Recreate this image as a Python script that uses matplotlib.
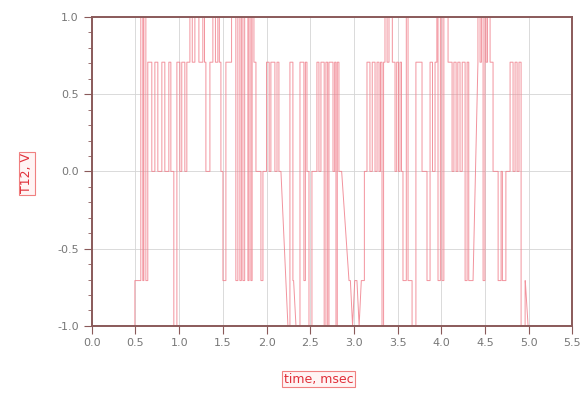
import matplotlib
matplotlib.use("Agg")
import matplotlib.pyplot as plt
from matplotlib.ticker import MultipleLocator

# Transient waveform of node T12, as held levels.
# Each level is held from hold_start_ms[i] to hold_end_ms[i]; consecutive
# holds are joined by straight lines (vertical when end == next start).
hold_start_ms = [
    0.000, 0.493, 0.561, 0.584, 0.596, 0.619, 0.641, 0.687, 0.722, 0.756,
    0.802, 0.836, 0.882, 0.905, 0.939, 0.974, 1.008, 1.030, 1.065, 1.088,
    1.123, 1.150, 1.180, 1.226, 1.271, 1.290, 1.306, 1.352, 1.386, 1.415,
    1.443, 1.460, 1.478, 1.501, 1.535, 1.600, 1.649, 1.672, 1.695, 1.712,
    1.730, 1.750, 1.787, 1.800, 1.821, 1.835, 1.856, 1.879, 1.936, 1.959,
    2.000, 2.030, 2.050, 2.096, 2.120, 2.142, 2.245, 2.268, 2.302, 2.337,
    2.383, 2.428, 2.445, 2.463, 2.486, 2.520, 2.577, 2.600, 2.623, 2.660,
    2.680, 2.700, 2.715, 2.761, 2.780, 2.795, 2.810, 2.829, 2.944, 2.985,
    3.010, 3.060, 3.085, 3.120, 3.150, 3.184, 3.210, 3.242, 3.265, 3.288,
    3.305, 3.322, 3.340, 3.356, 3.380, 3.402, 3.440, 3.471, 3.490, 3.510,
    3.528, 3.545, 3.562, 3.600, 3.620, 3.666, 3.710, 3.780, 3.837, 3.872,
    3.900, 3.929, 3.950, 3.963, 3.990, 4.009, 4.030, 4.078, 4.124, 4.145,
    4.170, 4.190, 4.215, 4.240, 4.273, 4.296, 4.315, 4.420, 4.420, 4.444,
    4.460, 4.479, 4.500, 4.513, 4.530, 4.559, 4.593, 4.651, 4.685, 4.700,
    4.740, 4.788, 4.822, 4.845, 4.868, 4.890, 4.914, 4.960, 4.994,
]
hold_end_ms = [
    0.493, 0.561, 0.584, 0.596, 0.619, 0.641, 0.687, 0.722, 0.756, 0.802,
    0.836, 0.882, 0.905, 0.939, 0.974, 1.008, 1.030, 1.065, 1.088, 1.123,
    1.150, 1.180, 1.226, 1.271, 1.290, 1.306, 1.352, 1.386, 1.415, 1.443,
    1.460, 1.478, 1.501, 1.535, 1.600, 1.649, 1.672, 1.695, 1.712, 1.730,
    1.750, 1.787, 1.800, 1.821, 1.835, 1.856, 1.879, 1.936, 1.959, 2.000,
    2.030, 2.050, 2.096, 2.120, 2.142, 2.165, 2.268, 2.302, 2.310, 2.383,
    2.428, 2.445, 2.463, 2.486, 2.520, 2.577, 2.600, 2.623, 2.660, 2.680,
    2.700, 2.715, 2.761, 2.780, 2.795, 2.810, 2.829, 2.860, 2.960, 2.985,
    3.035, 3.060, 3.120, 3.150, 3.184, 3.210, 3.242, 3.265, 3.288, 3.305,
    3.322, 3.340, 3.356, 3.380, 3.402, 3.440, 3.471, 3.490, 3.510, 3.528,
    3.545, 3.562, 3.600, 3.620, 3.666, 3.710, 3.780, 3.837, 3.872, 3.900,
    3.929, 3.950, 3.963, 3.990, 4.009, 4.030, 4.078, 4.124, 4.145, 4.170,
    4.190, 4.215, 4.240, 4.273, 4.296, 4.315, 4.364, 4.420, 4.444, 4.460,
    4.479, 4.500, 4.513, 4.530, 4.559, 4.593, 4.651, 4.685, 4.700, 4.740,
    4.788, 4.822, 4.845, 4.868, 4.890, 4.914, 4.960, 4.962, 5.500,
]
hold_level_v = [
    -1, -0.707, 1, -0.707, 1, -0.707, 0.707, 0, 0.707, 0,
    0.707, 0, 0.707, 0, -1, 0.707, 0, 0.707, 0, 0.707,
    1, 0.707, 1, 0.707, 1, 0.707, 0, 0.707, 1, 0.707,
    1, 0.707, 0, -0.707, 0.707, 1, -0.707, 1, -0.707, 1,
    -0.707, 1, -0.707, 1, -0.707, 1, 0.707, 0, -0.707, 0,
    0.707, 0, 0.707, 0, 0.707, 0, -1, 0.707, -0.707, -1,
    0.707, -0.707, 0.707, 0, -1, 0, 0.707, 0, 0.707, -1,
    0.707, -1, 0.707, 0, 0.707, -1, 0.707, 0, -0.707, -1,
    -0.707, -1, -0.707, 0, 0.707, 0, 0.707, 0, 0.707, 0,
    0.707, -1, 0.707, 1, 0.707, 1, 0.707, 0, 0.707, 0,
    0.707, 0, -0.707, 1, -0.707, -1, 0.707, 0, -0.707, 0.707,
    0, 0.707, 1, -0.707, 1, -0.707, 1, 0.707, 0, 0.707,
    0, 0.707, 0, 0.707, -0.707, 0.707, -0.707, 0.707, 1, 0.707,
    1, -0.707, 1, 0.707, 1, 0.707, 0, -0.707, 0, -0.707,
    0, 0.707, 0, 0.707, 0, 0.707, -1, -0.707, -1,
]

x_ticks = [0.0, 0.5, 1.0, 1.5, 2.0, 2.5, 3.0, 3.5, 4.0, 4.5, 5.0, 5.5]
y_ticks = [-1.0, -0.5, 0.0, 0.5, 1.0]

# Expand the held levels into polyline vertices
time_pts, volt_pts = [], []
for t0, t1, v in zip(hold_start_ms, hold_end_ms, hold_level_v):
    time_pts += [t0, t1]
    volt_pts += [v, v]

frame_color = "#8a5a5a"
label_red = "#e0303a"

fig = plt.figure(figsize=(5.81, 3.94), dpi=100)
ax = fig.add_axes([0.158, 0.173, 0.827, 0.784])

ax.plot(time_pts, volt_pts, color="#f0808c", lw=0.7, alpha=0.85, zorder=2)

ax.set_xlim(0, 5.5)
ax.set_ylim(-1, 1)
ax.set_xticks(x_ticks)
ax.set_xticklabels([f"{v:.1f}" for v in x_ticks])
ax.set_yticks(y_ticks)
ax.set_yticklabels([f"{v:.1f}" for v in y_ticks])
ax.yaxis.set_minor_locator(MultipleLocator(0.1))

ax.grid(True, which="major", color="#d4d4d4", lw=0.6, zorder=0)
for s in ax.spines.values():
    s.set_color(frame_color)
    s.set_linewidth(1.4)
ax.tick_params(axis="both", which="major", colors=frame_color, length=6,
               width=0.8, labelcolor="#777777", labelsize=8)
ax.tick_params(axis="y", which="minor", colors=frame_color, length=3, width=0.6)
ax.tick_params(axis="x", pad=3)

box = dict(boxstyle="square,pad=0.12", fc="#fff4f4", ec="#f08080", lw=0.8)
fig.text(0.046, 0.56, "T12, V", rotation=90, color=label_red, fontsize=9,
         ha="center", va="center", bbox=box)
fig.text(0.548, 0.037, "time, msec", color=label_red, fontsize=9,
         ha="center", va="center", bbox=box)

fig.savefig("out.png", dpi=100)
